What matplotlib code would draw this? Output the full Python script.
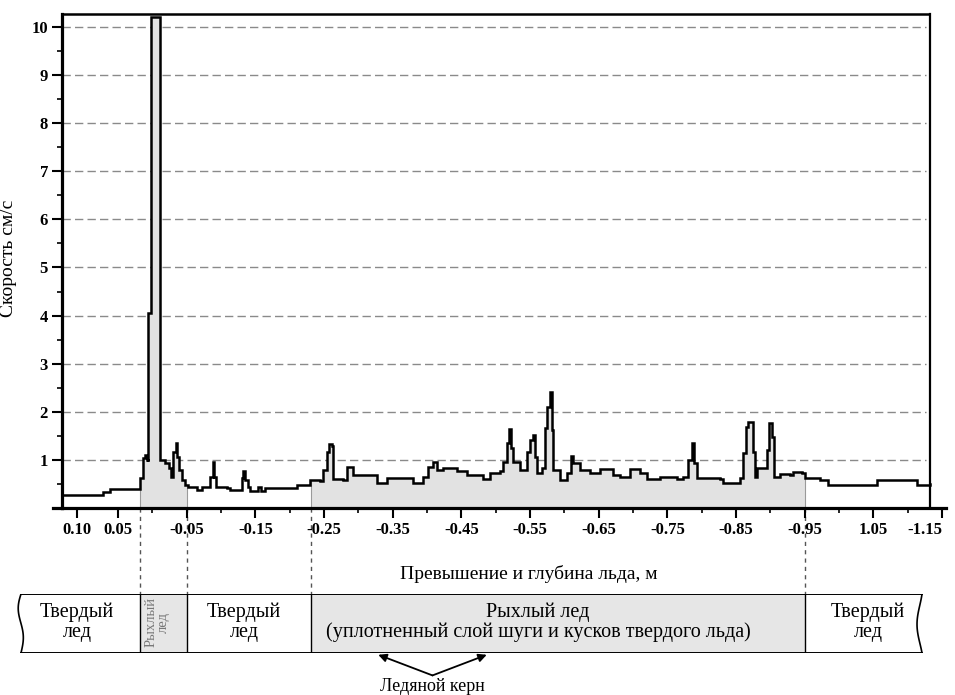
import numpy as np
import matplotlib
matplotlib.use("Agg")
import matplotlib.pyplot as plt
from matplotlib.patches import Rectangle
from matplotlib.ticker import FixedLocator, FixedFormatter

plt.rcParams['font.family'] = ['Liberation Serif', 'DejaVu Serif']

# ---------------- data ----------------
depth = np.array([
    0.118, 0.078, 0.068, 0.060, 0.019, 0.018, 0.0136, 0.0107, 0.0078, 0.0063,
    0.0060, 0.0025, 0.0020, -0.0097, -0.0105, -0.0112, -0.0184, -0.0243, -0.0272,
    -0.0301, -0.0345, -0.0359, -0.0388, -0.0432, -0.0476, -0.0519, -0.0650,
    -0.0723, -0.0796, -0.0840, -0.0883, -0.0898, -0.0927, -0.1087, -0.1131,
    -0.1248, -0.1306, -0.1320, -0.1350, -0.1393, -0.1422, -0.1524, -0.1539,
    -0.1583, -0.1641, -0.2092, -0.2107, -0.2252, -0.2296, -0.2442, -0.2485,
    -0.2544, -0.2573, -0.2616, -0.2631, -0.2777, -0.2835, -0.2879, -0.2922,
    -0.3126, -0.3272, -0.3417, -0.3607, -0.3796, -0.3942, -0.4015, -0.4087,
    -0.4146, -0.4233, -0.4437, -0.4582, -0.4772, -0.4815, -0.4917, -0.5063,
    -0.5107, -0.5165, -0.5194, -0.5223, -0.5252, -0.5354, -0.5456, -0.5500,
    -0.5544, -0.5573, -0.5602, -0.5675, -0.5718, -0.5748, -0.5791, -0.5820,
    -0.5835, -0.5937, -0.6039, -0.6097, -0.6126, -0.6228, -0.6374, -0.6519,
    -0.6709, -0.6811, -0.6956, -0.7102, -0.7204, -0.7393, -0.7641, -0.7728,
    -0.7801, -0.7859, -0.7888, -0.7932, -0.8267, -0.8311, -0.8456, -0.8558,
    -0.8602, -0.8646, -0.8675, -0.8733, -0.8748, -0.8777, -0.8806, -0.8922,
    -0.8951, -0.8980, -0.9024, -0.9053, -0.9141, -0.9286, -0.9330, -0.9461,
    -0.9505, -0.9723, -0.9840, -1.0451, -1.0553, -1.0990, -1.1136, -1.1325])
speed = np.array([
    0.28, 0.28, 0.34, 0.39, 0.40, 0.62, 1.04, 1.10, 1.00, 0.98,
    4.05, 4.05, 10.2, 10.2, 1.00, 1.00, 0.93, 0.83, 0.65,
    1.16, 1.35, 1.06, 0.79, 0.58, 0.48, 0.44, 0.37,
    0.44, 0.44, 0.65, 0.96, 0.65, 0.44, 0.42, 0.37,
    0.37, 0.62, 0.77, 0.58, 0.44, 0.35, 0.35, 0.44,
    0.35, 0.42, 0.42, 0.48, 0.48, 0.58, 0.57, 0.79,
    1.16, 1.33, 1.29, 0.60, 0.58, 0.86, 0.86, 0.69,
    0.69, 0.52, 0.62, 0.62, 0.52, 0.64, 0.86, 0.96,
    0.79, 0.83, 0.76, 0.69, 0.69, 0.60, 0.72, 0.76,
    0.96, 1.35, 1.64, 1.25, 0.96, 0.79, 1.16, 1.41,
    1.52, 1.06, 0.72, 0.83, 1.66, 2.10, 2.41, 1.62,
    0.79, 0.58, 0.72, 1.08, 0.93, 0.79, 0.72, 0.81,
    0.69, 0.65, 0.81, 0.72, 0.60, 0.65, 0.60, 0.65,
    1.00, 1.35, 0.93, 0.62, 0.60, 0.52, 0.52, 0.62,
    1.14, 1.69, 1.79, 1.79, 1.16, 0.65, 0.83, 0.83,
    1.20, 1.77, 1.48, 0.65, 0.70, 0.69, 0.75, 0.72,
    0.62, 0.58, 0.48, 0.48, 0.58, 0.58, 0.48, 0.50])

x_tick_values = [0.10, 0.05, -0.05, -0.15, -0.25, -0.35, -0.45, -0.55,
                 -0.65, -0.75, -0.85, -0.95, -1.05, -1.15]
x_tick_labels = ["0.10", "0.05", "-0.05", "-0.15", "-0.25", "-0.35", "-0.45",
                 "-0.55", "-0.65", "-0.75", "-0.85", "-0.95", "1.05", "-1.15"]
x_minor_values = [0.0, -0.10, -0.20, -0.30, -0.40, -0.50, -0.60, -0.70,
                  -0.80, -0.90, -1.00, -1.10]
y_tick_values = [1, 2, 3, 4, 5, 6, 7, 8, 9, 10]

zone_bounds = [0.018, -0.05, -0.231, -0.95]
zone_labels = ["Твердый\nлед", "Рыхлый\nлед", "Твердый\nлед",
               "Рыхлый лед\n(уплотненный слой шуги и кусков твердого льда)",
               "Твердый\nлед"]
zone_loose = [False, True, False, True, False]
core_span = (-0.329, -0.487)

x_label = "Превышение и глубина льда, м"
y_label = "Скорость см/с"
core_label = "Ледяной керн"

# ---------------- axis mapping (figure layout) ----------------
W, H = 955, 695
map_d = np.array([-2.0, -1.15, 0.05, 0.10, 0.30])
map_px = np.array([1525.7, 942.0, 118.0, 77.0, -87.0])


def fwd(d):
    return -np.interp(np.asarray(d, float), map_d, map_px)


def inv(f):
    return np.interp(-np.asarray(f, float), map_px[::-1], map_d[::-1])


def px2d(px):
    return float(inv(-px))


fig = plt.figure(figsize=(W / 100, H / 100), dpi=100)
ax_l, ax_r, ax_t, ax_b = 62, 946, 14, 508
ax = fig.add_axes([ax_l / W, 1 - ax_b / H, (ax_r - ax_l) / W, (ax_b - ax_t) / H])
ax.set_xscale('function', functions=(fwd, inv))
xl, xr = px2d(ax_l), px2d(ax_r)
ax.set_xlim(xl, xr)
ytop = 10.27
ax.set_ylim(0, ytop)
ppu = (ax_b - ax_t) / ytop  # pixels per unit in y

x_frame = px2d(930)

# grid
ax.hlines(y_tick_values, xl, px2d(926), colors='#8a8a8a',
          linestyles=(0, (6, 3)), lw=1.0, zorder=1)

# fills (step style like the curve)
for i, loose in enumerate(zone_loose):
    if not loose:
        continue
    b0, b1 = zone_bounds[i - 1], zone_bounds[i]
    m = (depth <= b0) & (depth >= b1)
    prev = speed[depth > b0][-1]
    xs = np.concatenate([[b0], depth[m], [b1]])
    ys = np.concatenate([[prev], speed[m], [speed[m][-1]]])
    ax.fill_between(xs, 0, ys, step='post', facecolor='#e2e2e2',
                    edgecolor='none', zorder=2)
    for b, v in ((b0, prev), (b1, speed[m][-1])):
        ax.plot([b, b], [0, v], color='#9a9a9a', lw=0.8, zorder=2)

ax.plot(depth, speed, color='black', lw=1.8, zorder=3,
        drawstyle='steps-post', solid_joinstyle='miter')

# frame
for s in ['top', 'right']:
    ax.spines[s].set_visible(False)
ax.spines['left'].set_linewidth(2.3)
ax.spines['bottom'].set_linewidth(2.3)
ax.plot([xl, x_frame], [ytop, ytop], color='black', lw=1.8, clip_on=False,
        zorder=4, solid_capstyle='butt')
ax.plot([x_frame, x_frame], [0, ytop], color='black', lw=1.6, clip_on=False,
        zorder=4)
ax.plot([px2d(53), xl], [0, 0], color='black', lw=2.3, clip_on=False)

# ticks
ax.xaxis.set_major_locator(FixedLocator(x_tick_values))
ax.xaxis.set_major_formatter(FixedFormatter(x_tick_labels))
ax.xaxis.set_minor_locator(FixedLocator(x_minor_values))
ax.yaxis.set_major_locator(FixedLocator(y_tick_values))
ax.yaxis.set_minor_locator(FixedLocator([v - 0.5 for v in y_tick_values]))
ax.tick_params(axis='both', which='major', direction='out', length=7,
               width=1.5, labelsize=12, pad=3)
ax.tick_params(axis='both', which='minor', direction='out', length=3.5,
               width=1.2)
for lab in ax.get_xticklabels() + ax.get_yticklabels():
    lab.set_fontweight('bold')
fig.canvas.draw()
ax.get_xticklabels()[-1].set_horizontalalignment('right')

ax.set_xlabel(x_label, fontsize=14)
ax.xaxis.set_label_coords((529 - ax_l) / (ax_r - ax_l), -(565 - ax_b) / (ax_b - ax_t))
ax.set_ylabel(y_label, fontsize=14)
ax.yaxis.set_label_coords(-(ax_l - 17) / (ax_r - ax_l), (ax_b - 258) / (ax_b - ax_t))

# dashed connectors to the strip
st_t, st_b = 594, 653
for b in zone_bounds:
    ax.plot([b, b], [0, -(st_t - ax_b) / ppu], color='#555555', lw=1.0,
            ls=(0, (3, 3)), clip_on=False, zorder=1)

# ---------------- strip ----------------
sx = fig.add_axes([0, 1 - st_b / H, 1, (st_b - st_t) / H])
sx.set_xscale('function', functions=(fwd, inv))
sx.set_xlim(px2d(0), px2d(W))
sx.set_ylim(0, 1)
sx.axis('off')

s_left, s_right = px2d(21), px2d(922)
edges = [s_left] + zone_bounds + [s_right]
label_px = [77, 157, 244, 538, 868]  # text centres (layout)
for i in range(5):
    a, b = edges[i], edges[i + 1]
    sx.add_patch(Rectangle((b, 0), a - b, 1,
                           facecolor='#e6e6e6' if zone_loose[i] else 'white',
                           edgecolor='none', zorder=1))
    cx = px2d(label_px[i])
    if i == 1:
        sx.text(cx, 0.52, zone_labels[i], rotation=90, fontsize=10.5,
                color='#777777', ha='center', va='center', linespacing=0.9,
                zorder=3)
    else:
        sx.text(cx, 0.52, zone_labels[i], fontsize=14.5, ha='center',
                va='center', linespacing=1.05, zorder=3)

sx.plot([s_left, s_right], [1, 1], color='black', lw=1.4, zorder=2)
sx.plot([s_left, s_right], [0, 0], color='black', lw=1.4, zorder=2)
for b in zone_bounds:
    sx.plot([b, b], [0, 1], color='black', lw=1.0, zorder=2)

t = np.linspace(0, 1, 60)
lw_amp = px2d(21) - px2d(24)
sx.plot(s_left + lw_amp * np.sin(2 * np.pi * t) * (1 - 0.3 * t), 1 - t,
        color='black', lw=1.2, zorder=2)
rw_amp = px2d(922) - px2d(927)
sx.plot(s_right + rw_amp * np.sin(np.pi * t) * np.cos(0.6 * np.pi * (t - 0.55)),
        1 - t, color='black', lw=1.2, zorder=2)

# ice core arrows
cmid = (core_span[0] + core_span[1]) / 2
for end in core_span:
    sx.annotate('', xy=(end, -0.03), xytext=(cmid, -0.38),
                arrowprops=dict(arrowstyle='-|>', color='black', lw=1.3,
                                mutation_scale=12, shrinkA=0, shrinkB=0),
                annotation_clip=False)
sx.text(cmid, -0.56, core_label, fontsize=13, ha='center', va='center',
        clip_on=False)

fig.savefig("out.png", dpi=100)
